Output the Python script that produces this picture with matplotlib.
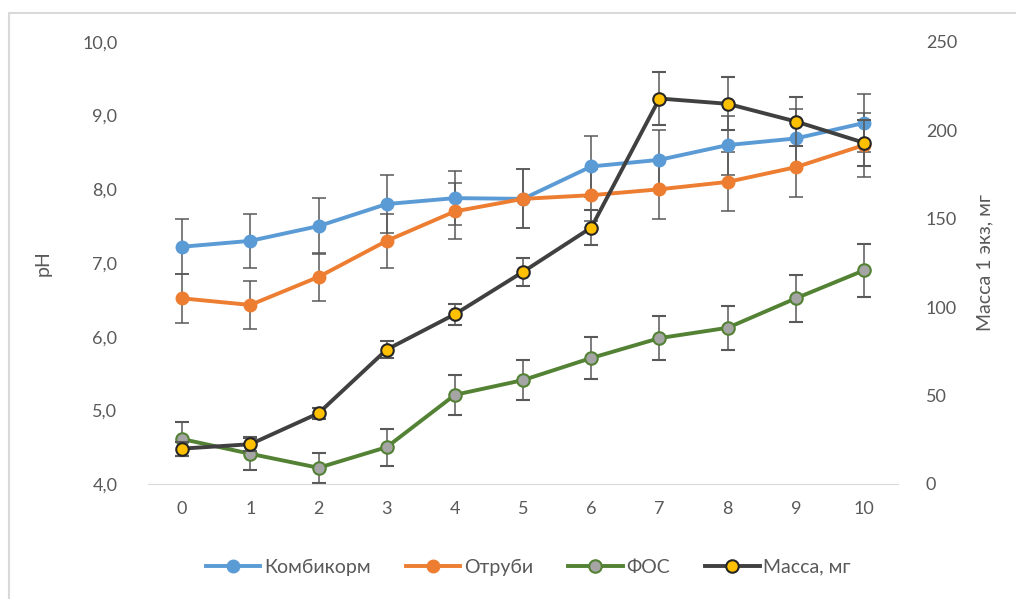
import matplotlib
matplotlib.use("Agg")
from matplotlib import pyplot as plt
from matplotlib.patches import Rectangle

plt.rcParams["font.family"] = ["Lato", "DejaVu Sans"]

days = [0, 1, 2, 3, 4, 5, 6, 7, 8, 9, 10]

# pH values (left axis)
kombikorm = [7.22, 7.30, 7.50, 7.80, 7.88, 7.87, 8.31, 8.40, 8.60, 8.69, 8.90]
kombikorm_err = [0.37, 0.37, 0.38, 0.39, 0.37, 0.40, 0.41, 0.40, 0.40, 0.40, 0.40]

otrubi = [6.52, 6.43, 6.81, 7.30, 7.70, 7.87, 7.92, 8.00, 8.10, 8.30, 8.60]
otrubi_err = [0.33, 0.33, 0.33, 0.37, 0.38, 0.40, 0.35, 0.40, 0.40, 0.40, 0.43]

fos = [4.61, 4.41, 4.22, 4.50, 5.21, 5.41, 5.71, 5.98, 6.12, 6.52, 6.90]
fos_err = [0.23, 0.22, 0.20, 0.25, 0.27, 0.27, 0.28, 0.30, 0.30, 0.32, 0.36]

# mass of one specimen, mg (right axis)
massa = [20, 22.5, 40, 76, 96, 120, 145, 218, 215, 205, 193]
massa_err = [4, 4, 3, 5, 6, 8, 10, 15, 15, 14, 13]

labels = ["Комбикорм", "Отруби", "ФОС", "Масса, мг"]
text_color = "#595959"
err_color = "#595959"

fig = plt.figure(figsize=(10.16, 5.99), dpi=100)
# chart-area frame: only top and left edges fall inside the picture
fig.patches.append(Rectangle((0.009, -0.02), 1.02, 0.999, transform=fig.transFigure,
                             fill=False, edgecolor="#d9d9d9", linewidth=1.5))

ax = fig.add_axes([0.1457, 0.192, 0.7383, 0.738])
ax2 = ax.twinx()

err_kw = dict(ecolor=err_color, elinewidth=1.1, capsize=5, capthick=1.1)

h1 = ax.errorbar(days, kombikorm, yerr=kombikorm_err, color="#5B9BD5", lw=2.8,
                 marker="o", ms=9, mfc="#5B9BD5", mec="#5B9BD5", **err_kw)
h2 = ax.errorbar(days, otrubi, yerr=otrubi_err, color="#ED7D31", lw=2.8,
                 marker="o", ms=9, mfc="#ED7D31", mec="#ED7D31", **err_kw)
h3 = ax.errorbar(days, fos, yerr=fos_err, color="#548235", lw=2.8,
                 marker="o", ms=9, mfc="#A5A5A5", mec="#548235", mew=1.5, **err_kw)
h4 = ax2.errorbar(days, massa, yerr=massa_err, color="#404040", lw=2.8,
                  marker="o", ms=9, mfc="#FFC000", mec="#262626", mew=1.5, **err_kw)

ax.set_xlim(-0.5, 10.5)
ax.set_ylim(4.0, 10.0)
ax2.set_ylim(0, 250)
ax.set_xticks(days)
ax.set_yticks([4, 5, 6, 7, 8, 9, 10])
ax.set_yticklabels([f"{v:.1f}".replace(".", ",") for v in range(4, 11)])
ax2.set_yticks([0, 50, 100, 150, 200, 250])

for a in (ax, ax2):
    for s in a.spines.values():
        s.set_visible(False)
    a.tick_params(length=0, labelsize=13, labelcolor=text_color)
ax.spines["bottom"].set_visible(True)
ax.spines["bottom"].set_color("#d9d9d9")
ax.tick_params(axis="x", pad=12)
ax.tick_params(axis="y", pad=22)
ax2.tick_params(axis="y", pad=20)

ax.set_ylabel("pH", fontsize=14, color=text_color, labelpad=22)
ax2.set_ylabel("Масса 1 экз, мг", fontsize=14, color=text_color, labelpad=14)

# legend shows only the line+marker, not the error bars
handles = [h[0] for h in (h1, h2, h3, h4)]
fig.legend(handles, labels, loc="center", bbox_to_anchor=(0.52, 0.053),
           ncol=4, frameon=False, fontsize=14, labelcolor=text_color,
           handlelength=2.8, handletextpad=0.2, columnspacing=1.8)

fig.savefig("out.png", dpi=100)
